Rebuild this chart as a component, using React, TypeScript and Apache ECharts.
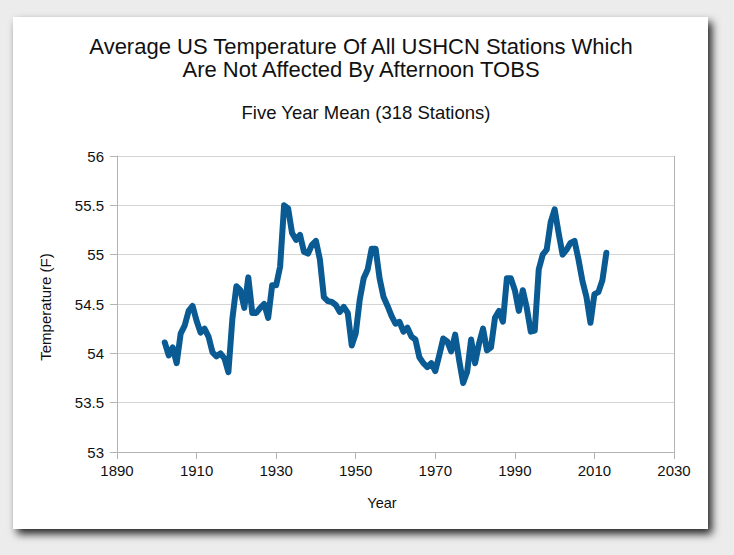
import React, { useEffect, useRef } from "react";
import * as echarts from "echarts";

const titleLines = [
  "Average US Temperature Of All USHCN Stations Which",
  "Are Not Affected By Afternoon TOBS",
];
const subtitle = "Five Year Mean (318 Stations)";
const xAxisName = "Year";
const yAxisName = "Temperature (F)";

const years = [
  1902, 1903, 1904, 1905, 1906, 1907, 1908, 1909, 1910, 1911,
  1912, 1913, 1914, 1915, 1916, 1917, 1918, 1919, 1920, 1921,
  1922, 1923, 1924, 1925, 1926, 1927, 1928, 1929, 1930, 1931,
  1932, 1933, 1934, 1935, 1936, 1937, 1938, 1939, 1940, 1941,
  1942, 1943, 1944, 1945, 1946, 1947, 1948, 1949, 1950, 1951,
  1952, 1953, 1954, 1955, 1956, 1957, 1958, 1959, 1960, 1961,
  1962, 1963, 1964, 1965, 1966, 1967, 1968, 1969, 1970, 1971,
  1972, 1973, 1974, 1975, 1976, 1977, 1978, 1979, 1980, 1981,
  1982, 1983, 1984, 1985, 1986, 1987, 1988, 1989, 1990, 1991,
  1992, 1993, 1994, 1995, 1996, 1997, 1998, 1999, 2000, 2001,
  2002, 2003, 2004, 2005, 2006, 2007, 2008, 2009, 2010, 2011,
  2012, 2013,
];

const temps = [
  54.11, 53.98, 54.06, 53.9, 54.2, 54.28, 54.43, 54.48, 54.33, 54.21,
  54.25, 54.17, 54.01, 53.97, 54.0, 53.95, 53.81, 54.35, 54.68, 54.64,
  54.46, 54.77, 54.41, 54.41, 54.46, 54.5, 54.36, 54.69, 54.69, 54.88,
  55.5, 55.47, 55.22, 55.15, 55.2, 55.03, 55.01, 55.1, 55.14, 54.95,
  54.57, 54.53, 54.52, 54.49, 54.42, 54.47, 54.41, 54.08, 54.2, 54.54,
  54.76, 54.85, 55.06, 55.06, 54.76, 54.57, 54.48, 54.38, 54.3, 54.32,
  54.22, 54.26, 54.17, 54.14, 53.96, 53.9, 53.86, 53.9, 53.82, 53.98,
  54.15, 54.12, 54.02, 54.19, 53.93, 53.7, 53.81, 54.14, 53.9, 54.1,
  54.25, 54.03, 54.06, 54.36, 54.43, 54.32, 54.76, 54.76, 54.64, 54.43,
  54.64, 54.46, 54.22, 54.23, 54.85, 55.0, 55.05, 55.33, 55.46, 55.22,
  55.0, 55.05, 55.12, 55.14, 54.95, 54.73, 54.57, 54.31, 54.6, 54.62,
  54.74, 55.02,
];

const FONT = "'Liberation Sans', Arial, Helvetica, sans-serif";

export default function App() {
  const ref = useRef<HTMLDivElement>(null);

  useEffect(() => {
    if (!ref.current) return;
    const chart = echarts.init(ref.current, null, { renderer: "svg" });
    const data = years.map((y, i) => [y, temps[i]]);
    const txt = (x: number, y: number, text: string, size: number, rotation = 0) => ({
      type: "text",
      x,
      y,
      rotation,
      style: {
        text,
        font: `${size}px ${FONT}`,
        fill: "#111",
        align: "center",
        verticalAlign: "middle",
      },
    });
    chart.setOption({
      animation: false,
      backgroundColor: "#ececec",
      textStyle: { fontFamily: FONT },
      graphic: [
        {
          type: "rect",
          z: -10,
          shape: { x: 13, y: 17, width: 695, height: 512 },
          style: {
            fill: "#ffffff",
            shadowBlur: 8,
            shadowOffsetX: 4,
            shadowOffsetY: 5,
            shadowColor: "rgba(0,0,0,0.85)",
          },
        },
        txt(361, 46, titleLines[0], 22),
        txt(361, 69, titleLines[1], 22),
        txt(366, 112, subtitle, 18.5),
        txt(382, 503, xAxisName, 14.5),
        txt(45, 307, yAxisName, 15, Math.PI / 2),
      ],
      grid: { left: 117, right: 60, top: 156, bottom: 103, show: false },
      xAxis: {
        type: "value",
        min: 1890,
        max: 2030,
        interval: 20,
        axisLine: { show: true, lineStyle: { color: "#b3b3b3", width: 1 } },
        axisTick: { show: true, length: 7, lineStyle: { color: "#b3b3b3" } },
        axisLabel: {
          fontSize: 15,
          color: "#111",
          margin: 11,
          fontFamily: FONT,
          formatter: (v: number) => String(v),
        },
        splitLine: { show: false },
      },
      yAxis: {
        type: "value",
        min: 53,
        max: 56,
        interval: 0.5,
        axisLine: { show: true, lineStyle: { color: "#b3b3b3", width: 1 } },
        axisTick: { show: true, length: 7, lineStyle: { color: "#b3b3b3" } },
        axisLabel: { fontSize: 15, color: "#111", margin: 13, fontFamily: FONT },
        splitLine: { show: true, lineStyle: { color: "#d4d4d4", width: 1 } },
      },
      series: [
        {
          type: "line",
          data,
          showSymbol: false,
          symbol: "none",
          lineStyle: { color: "#0a5a93", width: 6, join: "round", cap: "round" },
          z: 5,
        },
        {
          type: "line",
          data: [],
          markLine: {
            silent: true,
            symbol: "none",
            label: { show: false },
            lineStyle: { color: "#b3b3b3", width: 1, type: "solid" },
            data: [{ xAxis: 2030 }],
          },
        },
      ],
    });
    return () => chart.dispose();
  }, []);

  return (
    <div
      ref={ref}
      style={{ position: "fixed", left: 0, top: 0, width: 734, height: 555 }}
    />
  );
}
